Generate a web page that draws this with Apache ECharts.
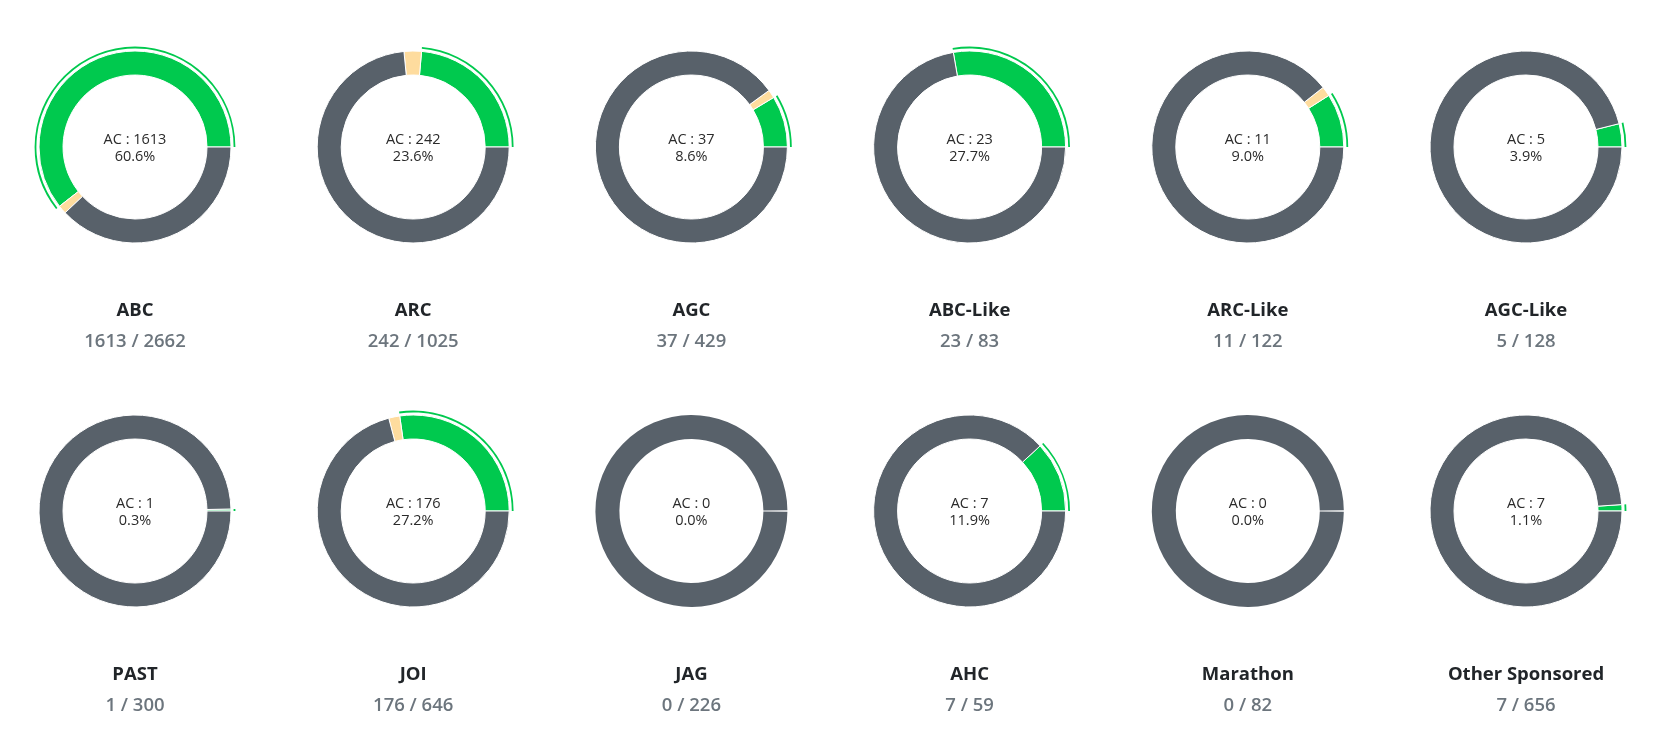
<!DOCTYPE html>
<html>
<head>
<meta charset="utf-8">
<script src="https://cdn.jsdelivr.net/npm/echarts@6/dist/echarts.min.js"></script>
<style>
html,body{margin:0;padding:0;background:#fff;}
#chart{width:1666px;height:736px;}
</style>
</head>
<body>
<div id="chart"></div>
<script>
// ---- data ----
const categories = ["ABC","ARC","AGC","ABC-Like","ARC-Like","AGC-Like","PAST","JOI","JAG","AHC","Marathon","Other Sponsored"];
const acCounts = [1613, 242, 37, 23, 11, 5, 1, 176, 0, 7, 0, 7];
const tryingCounts = [38, 30, 6, 0, 2, 0, 0, 12, 0, 0, 0, 0];
const totalCounts = [2662, 1025, 429, 83, 122, 128, 300, 646, 226, 59, 82, 656];

const COLORS = { ac: '#00c94e', trying: '#fedc9e', none: '#58616a' };
const FONT = '"Open Sans", "Noto Sans", sans-serif';

const chart = echarts.init(document.getElementById('chart'), null, { renderer: 'canvas' });

const series = [];
const graphics = [];
const COLS = 6;
const X0 = 135, DX = 278.2, Y0 = 147, DY = 364;

categories.forEach((name, i) => {
  const col = i % COLS, row = Math.floor(i / COLS);
  const cx = X0 + col * DX, cy = Y0 + row * DY;
  const ac = acCounts[i], tr = tryingCounts[i], tot = totalCounts[i];
  const rest = tot - ac - tr;
  const items = [
    { name: 'AC', value: ac, itemStyle: { color: COLORS.ac } },
    { name: 'Trying', value: tr, itemStyle: { color: COLORS.trying } },
    { name: 'No Sub', value: rest, itemStyle: { color: COLORS.none } }
  ].filter(d => d.value > 0);
  const single = items.length === 1;
  series.push({
    type: 'pie',
    center: [cx, cy],
    radius: [72, 96],
    startAngle: 0,
    clockwise: false,
    silent: true,
    animation: false,
    avoidLabelOverlap: false,
    padAngle: single ? 0.9 : 0,
    label: { show: false },
    labelLine: { show: false },
    emphasis: { disabled: true },
    itemStyle: { borderColor: '#ffffff', borderWidth: single ? 0 : 1 },
    data: items
  });
  if (ac > 0) {
    series.push({
      type: 'pie',
      center: [cx, cy],
      radius: [98.6, 100.4],
      startAngle: 0,
      clockwise: false,
      silent: true,
      animation: false,
      label: { show: false },
      labelLine: { show: false },
      emphasis: { disabled: true },
      itemStyle: { borderWidth: 0 },
      data: [
        { name: 'AC', value: ac, itemStyle: { color: COLORS.ac } },
        { name: 'other', value: tot - ac, itemStyle: { color: 'rgba(0,0,0,0)' } }
      ]
    });
  }
  const pct = (ac / tot * 100).toFixed(1) + '%';
  graphics.push({
    type: 'text', x: cx, y: cy + 1, silent: true,
    style: { text: 'AC : ' + ac + '\n' + pct, align: 'center', verticalAlign: 'middle',
      font: '14.5px ' + FONT, fill: '#2b2b2b', lineHeight: 17 }
  });
  graphics.push({
    type: 'text', x: cx, y: 311 + row * DY, silent: true,
    style: { text: name, align: 'center', verticalAlign: 'middle',
      font: 'bold 18.5px ' + FONT, fill: '#212529' }
  });
  graphics.push({
    type: 'text', x: cx, y: 342 + row * DY, silent: true,
    style: { text: ac + ' / ' + tot, align: 'center', verticalAlign: 'middle',
      font: '600 18.5px ' + FONT, fill: '#6c757d' }
  });
});

chart.setOption({
  animation: false,
  series: series,
  graphic: graphics
});
</script>
</body>
</html>
